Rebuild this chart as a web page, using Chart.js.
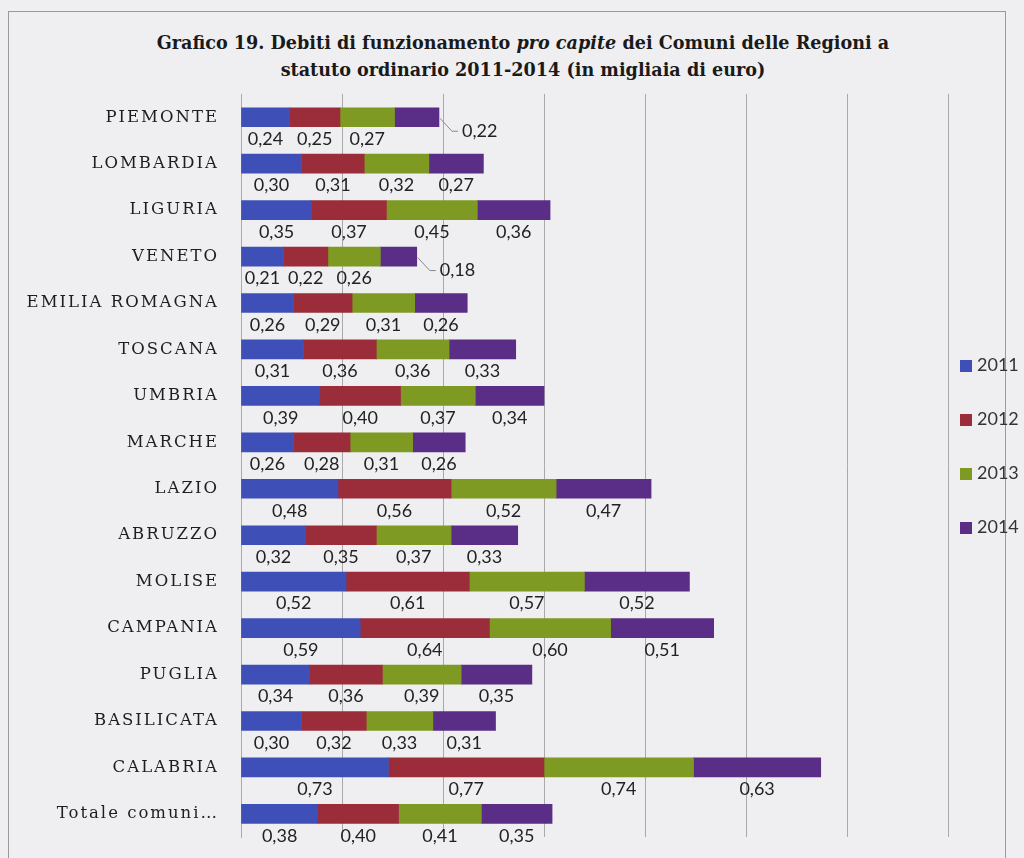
<!DOCTYPE html>
<html>
<head>
<meta charset="utf-8">
<script src="https://cdn.jsdelivr.net/npm/chart.js@4.4.1/dist/chart.umd.min.js"></script>
<style>
  html, body { margin: 0; padding: 0; }
  body { width: 1024px; height: 858px; overflow: hidden; background: #efeff1; position: relative; }
  #frame { position: absolute; left: 8px; top: 11px; width: 996px; height: 860px; border: 1px solid #9a9a9a; }
  #title { position: absolute; left: 0; top: 29px; width: 1046px; text-align: center;
           font-family: "DejaVu Serif", serif; font-weight: bold; font-size: 17.6px; line-height: 27px; color: #1a1a1a; }
  #legend { position: absolute; left: 960px; top: 0; font-family: Lato, "Open Sans", sans-serif; font-size: 18px; color: #333; }
  #legend div { position: absolute; white-space: nowrap; }
  #legend span { display: inline-block; width: 12px; height: 12px; margin-right: 5px; vertical-align: -1px; }
  #wrap { position: absolute; left: 0; top: 0; width: 1024px; height: 861px; }
</style>
</head>
<body>
<div id="frame"></div>
<div id="title">Grafico 19. Debiti di funzionamento <i>pro capite</i> dei Comuni delle Regioni a<br>statuto ordinario 2011-2014 (in migliaia di euro)</div>
<div id="wrap"><canvas id="debitiChart" width="1024" height="861"></canvas></div>
<div id="legend"></div>
<script>
 var regioni = ['PIEMONTE', 'LOMBARDIA', 'LIGURIA', 'VENETO', 'EMILIA ROMAGNA', 'TOSCANA', 'UMBRIA', 'MARCHE',
   'LAZIO', 'ABRUZZO', 'MOLISE', 'CAMPANIA', 'PUGLIA', 'BASILICATA', 'CALABRIA', 'Totale comuni…'];
 var anni = ['2011', '2012', '2013', '2014'];
 var v2011 = [0.24, 0.30, 0.35, 0.21, 0.26, 0.31, 0.39, 0.26, 0.48, 0.32, 0.52, 0.59, 0.34, 0.30, 0.73, 0.38];
 var v2012 = [0.25, 0.31, 0.37, 0.22, 0.29, 0.36, 0.40, 0.28, 0.56, 0.35, 0.61, 0.64, 0.36, 0.32, 0.77, 0.40];
 var v2013 = [0.27, 0.32, 0.45, 0.26, 0.31, 0.36, 0.37, 0.31, 0.52, 0.37, 0.57, 0.60, 0.39, 0.33, 0.74, 0.41];
 var v2014 = [0.22, 0.27, 0.36, 0.18, 0.26, 0.33, 0.34, 0.26, 0.47, 0.33, 0.52, 0.51, 0.35, 0.31, 0.63, 0.35];
 var colori = ['#3f4fb8', '#9b2d3a', '#7e9a22', '#5a2d86'];
 // labels that sit outside the bar with a leader line (dataset-row)
 var fuoriBarra = ['3-0', '3-3'];

 // value labels under each segment
 var etichette = {
     id: 'etichette',
     beforeDraw: function (chart) { chart.ctx.letterSpacing = '2px'; },
     beforeDatasetsDraw: function (chart) { chart.ctx.letterSpacing = '0px'; },
     afterDatasetsDraw: function (chart) {
         var ctx = chart.ctx;
         ctx.save();
         ctx.font = '18px Lato, "Open Sans", sans-serif';
         ctx.fillStyle = '#222';
         ctx.textBaseline = 'middle';
         chart.data.datasets.forEach(function (ds, i) {
             chart.getDatasetMeta(i).data.forEach(function (bar, j) {
                 var txt = ds.data[j].toFixed(2).replace('.', ',');
                 if (fuoriBarra.indexOf(i + '-' + j) >= 0) {
                     ctx.strokeStyle = '#888';
                     ctx.lineWidth = 1;
                     ctx.beginPath();
                     ctx.moveTo(bar.x + 1, bar.y + 1);
                     ctx.lineTo(bar.x + 13, bar.y + 14);
                     ctx.lineTo(bar.x + 19, bar.y + 14);
                     ctx.stroke();
                     ctx.textAlign = 'left';
                     ctx.fillText(txt, bar.x + 23, bar.y + 14);
                 } else {
                     ctx.textAlign = 'center';
                     ctx.fillText(txt, (bar.x + bar.base) / 2, bar.y + 22);
                 }
             });
         });
         ctx.restore();
     }
 };

 var ctx = document.getElementById('debitiChart').getContext('2d');
 var debitiChart = new Chart(ctx, {
     type: 'bar',
     data: {
         labels: regioni,
         datasets: [v2011, v2012, v2013, v2014].map(function (d, i) {
             return { label: anni[i], data: d, backgroundColor: colori[i], borderWidth: 0, barThickness: 19 };
         })
     },
     options: {
         indexAxis: 'y',
         responsive: false,
         animation: false,
         layout: { padding: { top: 94, bottom: 13, left: 0, right: 76 } },
         scales: {
             x: {
                 stacked: true,
                 min: 0,
                 max: 3.5,
                 ticks: { display: false, stepSize: 0.5 },
                 grid: { color: '#a9a9a9', drawTicks: false },
                 border: { display: false }
             },
             y: {
                 stacked: true,
                 grid: { display: false },
                 border: { color: '#a9a9a9' },
                 ticks: { padding: 14, color: '#1e1e1e', font: { family: '"DejaVu Serif", serif', size: 16.5 } },
                 afterFit: function (scale) { scale.width = 241; }
             }
         },
         plugins: {
             legend: { display: false },
             tooltip: { enabled: false }
         }
     },
     plugins: [etichette]
 });

 // legend on the right
 var legend = document.getElementById('legend');
 anni.forEach(function (a, i) {
     var item = document.createElement('div');
     item.style.top = (353 + i * 54) + 'px';
     item.innerHTML = '<span style="background:' + colori[i] + '"></span>' + a;
     legend.appendChild(item);
 });
</script>
</body>
</html>
